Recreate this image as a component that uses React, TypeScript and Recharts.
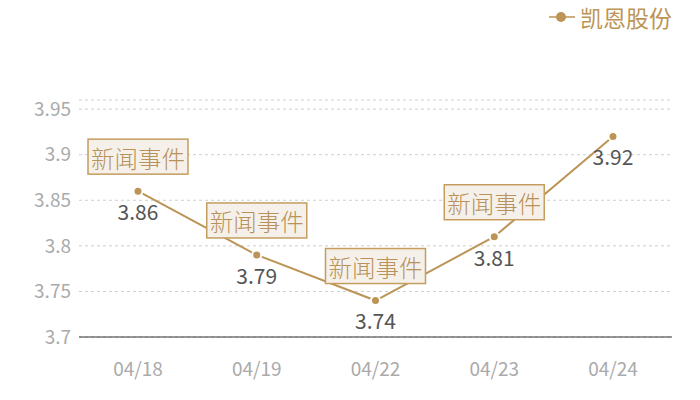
import React from 'react';
import {
  LineChart,
  Line,
  XAxis,
  YAxis,
  CartesianGrid,
  LabelList,
  ReferenceDot,
} from 'recharts';

const dates = ['04/18', '04/19', '04/22', '04/23', '04/24'];
const prices = [3.86, 3.79, 3.74, 3.81, 3.92];
const eventDates = ['04/18', '04/19', '04/22', '04/23'];
const eventText = '新闻事件';
const yTicks = [3.7, 3.75, 3.8, 3.85, 3.9, 3.95, 3.96];
const seriesName = '凯恩股份';

const data = dates.map((d, i) => ({ date: d, price: prices[i] }));

const GOLD = '#bc9556';
const FONT = '"Noto Sans CJK SC", "Noto Sans", sans-serif';

const EventBox = (props: any) => {
  const { cx, cy } = props;
  const w = 100;
  const h = 35;
  const bottom = cy - 17;
  return (
    <g>
      <rect
        x={cx - w / 2}
        y={bottom - h}
        width={w}
        height={h}
        fill='#f5f1ea'
        stroke='#c49d5f'
        strokeWidth={1.5}
      />
      <text
        x={cx}
        y={bottom - h / 2 + 1}
        textAnchor='middle'
        dominantBaseline='central'
        fontSize={23.5}
        fontWeight={300}
        fill='#b8925a'
        fontFamily={FONT}
      >
        {eventText}
      </text>
    </g>
  );
};

// legend drawn as an overlay so it does not push the plot down
const LegendBox = () => (
  <div
    style={{
      position: 'absolute',
      top: 0,
      right: 28,
      display: 'flex',
      alignItems: 'center',
      fontFamily: FONT,
      fontSize: 23,
      color: GOLD,
    }}
  >
    <svg width={26} height={12} style={{ marginRight: 5 }}>
      <line x1={0} y1={6} x2={26} y2={6} stroke={GOLD} strokeWidth={1.5} />
      <circle cx={12} cy={6} r={5} fill={GOLD} />
    </svg>
    {seriesName}
  </div>
);

export default function App() {
  return (
    <div
      style={{
        position: 'absolute',
        left: 0,
        top: 0,
        width: 700,
        height: 400,
        background: '#fff',
      }}
    >
      <LineChart
        width={700}
        height={400}
        data={data}
        margin={{ top: 100, right: 28, left: 0, bottom: 0 }}
      >
        <CartesianGrid
          vertical={false}
          stroke='#cfcfcf'
          strokeDasharray='3 3'
        />
        <XAxis
          dataKey='date'
          height={63}
          padding={{ left: 59, right: 59 }}
          axisLine={{ stroke: '#333', strokeWidth: 1 }}
          tickLine={false}
          tickMargin={20}
          tick={{ fontSize: 19, fill: '#aaaaaa', fontFamily: FONT }}
        />
        <YAxis
          width={79}
          domain={[3.7, 3.96]}
          ticks={yTicks}
          interval={0}
          axisLine={false}
          tickLine={false}
          tickFormatter={(v: number) => (v === 3.96 ? '' : String(v))}
          tick={{ fontSize: 19, fill: '#aaaaaa', fontFamily: FONT }}
        />
        <Line
          type='linear'
          dataKey='price'
          name={seriesName}
          stroke={GOLD}
          strokeWidth={2}
          dot={{ r: 4.5, fill: GOLD, stroke: '#fff', strokeWidth: 2 }}
          isAnimationActive={false}
        >
          <LabelList
            dataKey='price'
            position='bottom'
            offset={14}
            fill='#555555'
            fontSize={21}
            fontFamily={FONT}
          />
        </Line>
        {eventDates.map((d) => (
          <ReferenceDot
            key={d}
            x={d}
            y={prices[dates.indexOf(d)]}
            shape={EventBox}
          />
        ))}
      </LineChart>
      <LegendBox />
    </div>
  );
}
